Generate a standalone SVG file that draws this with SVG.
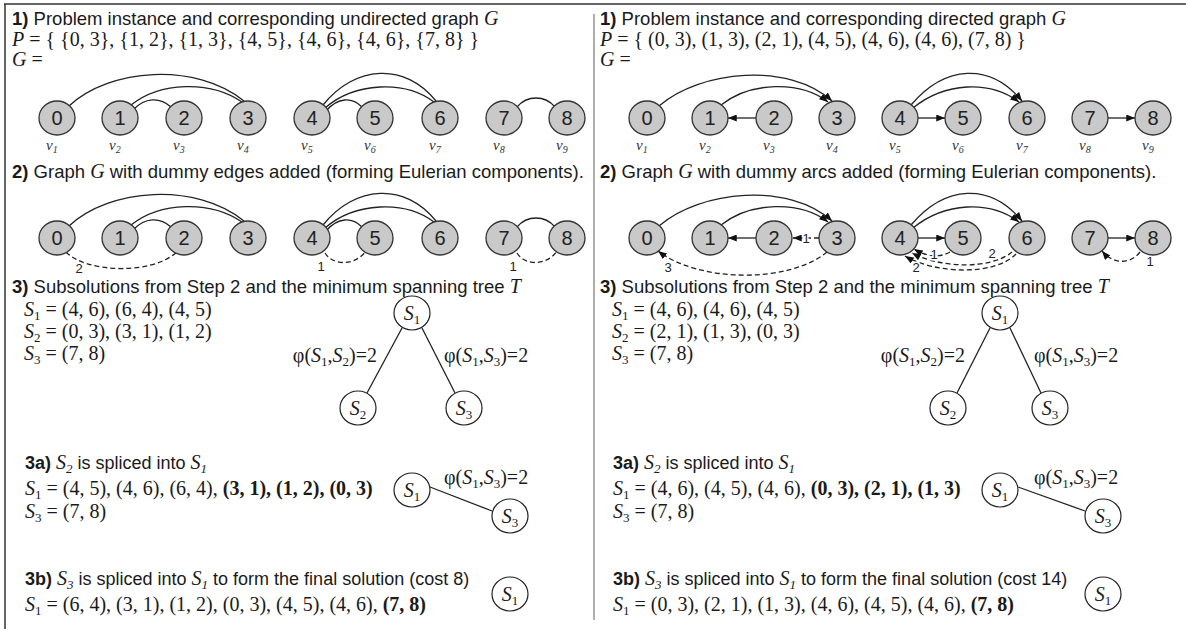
<svg xmlns="http://www.w3.org/2000/svg" width="1186" height="629" viewBox="0 0 1186 629">
<style>
.sans{font-family:"Liberation Sans",Arial,sans-serif;font-size:18.5px;fill:#1a1a1a}
.sm{font-size:18px}
.ser{font-family:"Liberation Serif","Times New Roman",serif;font-size:20px;fill:#1a1a1a}
.it{font-family:"Liberation Serif","Times New Roman",serif;font-style:italic}
.b{font-weight:bold}
.num{font-family:"Liberation Sans",Arial,sans-serif;font-size:20px;text-anchor:middle;fill:#222}
.nd{fill:#c9c9c9;stroke:#333;stroke-width:1.3}
.sn{fill:#fff;stroke:#222;stroke-width:1.2}
.e{fill:none;stroke:#222;stroke-width:1.3}
.dash{stroke-dasharray:5 3}
.lbl{font-family:"Liberation Sans",Arial,sans-serif;font-size:13px;text-anchor:middle;fill:#222;stroke:#fff;stroke-width:3;paint-order:stroke}
.v{font-family:"Liberation Serif","Times New Roman",serif;font-style:italic;font-size:15px;fill:#333}
.frame{stroke:#333;stroke-width:1.5;fill:none}
</style>
<defs>
<marker id="ah" viewBox="0 0 10 8" refX="10" refY="4" markerWidth="9" markerHeight="7" orient="auto" markerUnits="userSpaceOnUse"><path d="M0,0 L10,4 L0,8 z" fill="#111"/></marker>
</defs>

<g id="frame">
<line class="frame" x1="4" y1="4" x2="1186" y2="4"/>
<line class="frame" x1="5" y1="4" x2="5" y2="629"/>
<line x1="594" y1="14" x2="594" y2="620" stroke="#777" stroke-width="1.2"/>
</g>

<!-- LEFT PANEL TEXT -->
<g id="left-text">
<text class="sans" x="12" y="25"><tspan class="b">1)</tspan> Problem instance and corresponding undirected graph <tspan class="it" font-size="20">G</tspan></text>
<text class="ser" x="12" y="46"><tspan class="it">P</tspan> = { {0, 3}, {1, 2}, {1, 3}, {4, 5}, {4, 6}, {4, 6}, {7, 8} }</text>
<text class="ser" x="12" y="66"><tspan class="it">G</tspan> =</text>
<text class="sans" x="12" y="178"><tspan class="b">2)</tspan> Graph <tspan class="it" font-size="20">G</tspan> with dummy edges added (forming Eulerian components).</text>
<text class="sans" x="12" y="293"><tspan class="b">3)</tspan> Subsolutions from Step 2 and the minimum spanning tree <tspan class="it" font-size="20">T</tspan></text>
<text class="ser" x="24" y="316"><tspan class="it">S</tspan><tspan font-size="13" dy="4">1</tspan><tspan dy="-4"> = (4, 6), (6, 4), (4, 5)</tspan></text>
<text class="ser" x="24" y="338"><tspan class="it">S</tspan><tspan font-size="13" dy="4">2</tspan><tspan dy="-4"> = (0, 3), (3, 1), (1, 2)</tspan></text>
<text class="ser" x="24" y="360"><tspan class="it">S</tspan><tspan font-size="13" dy="4">3</tspan><tspan dy="-4"> = (7, 8)</tspan></text>
<text class="ser" x="377" y="362" text-anchor="end">φ(<tspan class="it">S</tspan><tspan font-size="13" dy="4">1</tspan><tspan dy="-4">,</tspan><tspan class="it">S</tspan><tspan font-size="13" dy="4">2</tspan><tspan dy="-4">)=2</tspan></text>
<text class="ser" x="444" y="362">φ(<tspan class="it">S</tspan><tspan font-size="13" dy="4">1</tspan><tspan dy="-4">,</tspan><tspan class="it">S</tspan><tspan font-size="13" dy="4">3</tspan><tspan dy="-4">)=2</tspan></text>
<text class="sans sm" x="25" y="469"><tspan class="b">3a)</tspan> <tspan class="it" font-size="20">S</tspan><tspan class="it" font-size="13" dy="4">2</tspan><tspan dy="-4"> is spliced into </tspan><tspan class="it" font-size="20">S</tspan><tspan class="it" font-size="13" dy="4">1</tspan></text>
<text class="ser" x="25" y="495"><tspan class="it">S</tspan><tspan font-size="13" dy="4">1</tspan><tspan dy="-4"> = (4, 5), (4, 6), (6, 4), </tspan><tspan class="b">(3, 1), (1, 2), (0, 3)</tspan></text>
<text class="ser" x="25" y="518"><tspan class="it">S</tspan><tspan font-size="13" dy="4">3</tspan><tspan dy="-4"> = (7, 8)</tspan></text>
<text class="ser" x="444" y="484">φ(<tspan class="it">S</tspan><tspan font-size="13" dy="4">1</tspan><tspan dy="-4">,</tspan><tspan class="it">S</tspan><tspan font-size="13" dy="4">3</tspan><tspan dy="-4">)=2</tspan></text>
<text class="sans sm" x="25" y="585"><tspan class="b">3b)</tspan> <tspan class="it" font-size="20">S</tspan><tspan class="it" font-size="13" dy="4">3</tspan><tspan dy="-4"> is spliced into </tspan><tspan class="it" font-size="20">S</tspan><tspan class="it" font-size="13" dy="4">1</tspan><tspan dy="-4"> to form the final solution (cost 8)</tspan></text>
<text class="ser" x="25" y="611"><tspan class="it">S</tspan><tspan font-size="13" dy="4">1</tspan><tspan dy="-4"> = (6, 4), (3, 1), (1, 2), (0, 3), (4, 5), (4, 6), </tspan><tspan class="b">(7, 8)</tspan></text>
</g>

<!-- RIGHT PANEL TEXT -->
<g id="right-text">
<text class="sans" x="600" y="25"><tspan class="b">1)</tspan> Problem instance and corresponding directed graph <tspan class="it" font-size="20">G</tspan></text>
<text class="ser" x="600" y="46"><tspan class="it">P</tspan> = { (0, 3), (1, 3), (2, 1), (4, 5), (4, 6), (4, 6), (7, 8) }</text>
<text class="ser" x="600" y="66"><tspan class="it">G</tspan> =</text>
<text class="sans" x="600" y="178"><tspan class="b">2)</tspan> Graph <tspan class="it" font-size="20">G</tspan> with dummy arcs added (forming Eulerian components).</text>
<text class="sans" x="600" y="293"><tspan class="b">3)</tspan> Subsolutions from Step 2 and the minimum spanning tree <tspan class="it" font-size="20">T</tspan></text>
<text class="ser" x="612" y="316"><tspan class="it">S</tspan><tspan font-size="13" dy="4">1</tspan><tspan dy="-4"> = (4, 6), (4, 6), (4, 5)</tspan></text>
<text class="ser" x="612" y="338"><tspan class="it">S</tspan><tspan font-size="13" dy="4">2</tspan><tspan dy="-4"> = (2, 1), (1, 3), (0, 3)</tspan></text>
<text class="ser" x="612" y="360"><tspan class="it">S</tspan><tspan font-size="13" dy="4">3</tspan><tspan dy="-4"> = (7, 8)</tspan></text>
<text class="ser" x="965" y="362" text-anchor="end">φ(<tspan class="it">S</tspan><tspan font-size="13" dy="4">1</tspan><tspan dy="-4">,</tspan><tspan class="it">S</tspan><tspan font-size="13" dy="4">2</tspan><tspan dy="-4">)=2</tspan></text>
<text class="ser" x="1034" y="362">φ(<tspan class="it">S</tspan><tspan font-size="13" dy="4">1</tspan><tspan dy="-4">,</tspan><tspan class="it">S</tspan><tspan font-size="13" dy="4">3</tspan><tspan dy="-4">)=2</tspan></text>
<text class="sans sm" x="613" y="469"><tspan class="b">3a)</tspan> <tspan class="it" font-size="20">S</tspan><tspan class="it" font-size="13" dy="4">2</tspan><tspan dy="-4"> is spliced into </tspan><tspan class="it" font-size="20">S</tspan><tspan class="it" font-size="13" dy="4">1</tspan></text>
<text class="ser" x="613" y="495"><tspan class="it">S</tspan><tspan font-size="13" dy="4">1</tspan><tspan dy="-4"> = (4, 6), (4, 5), (4, 6), </tspan><tspan class="b">(0, 3), (2, 1), (1, 3)</tspan></text>
<text class="ser" x="613" y="518"><tspan class="it">S</tspan><tspan font-size="13" dy="4">3</tspan><tspan dy="-4"> = (7, 8)</tspan></text>
<text class="ser" x="1034" y="484">φ(<tspan class="it">S</tspan><tspan font-size="13" dy="4">1</tspan><tspan dy="-4">,</tspan><tspan class="it">S</tspan><tspan font-size="13" dy="4">3</tspan><tspan dy="-4">)=2</tspan></text>
<text class="sans sm" x="613" y="585"><tspan class="b">3b)</tspan> <tspan class="it" font-size="20">S</tspan><tspan class="it" font-size="13" dy="4">3</tspan><tspan dy="-4"> is spliced into </tspan><tspan class="it" font-size="20">S</tspan><tspan class="it" font-size="13" dy="4">1</tspan><tspan dy="-4"> to form the final solution (cost 14)</tspan></text>
<text class="ser" x="613" y="611"><tspan class="it">S</tspan><tspan font-size="13" dy="4">1</tspan><tspan dy="-4"> = (0, 3), (2, 1), (1, 3), (4, 6), (4, 5), (4, 6), </tspan><tspan class="b">(7, 8)</tspan></text>
</g>

<!-- CONNECTORS -->
<g id="connectors">
<!-- left row 1 -->
<path class="e" d="M69 106 C110 68 195 62 244 101"/>
<path class="e" d="M131 105 C160 82 210 80 242 102"/>
<path class="e" d="M133 110 C145 97 160 97 171 107"/>
<path class="e" d="M323 105 C355 65 405 62 436 101"/>
<path class="e" d="M325 108 C355 82 405 80 434 102"/>
<path class="e" d="M326 111 C338 97 352 97 362 107"/>
<path class="e" d="M517 107 C527 95 545 95 555 107"/>
<!-- left row 2 -->
<path class="e" d="M69 226 C110 188 195 182 244 221"/>
<path class="e" d="M131 225 C160 202 210 200 242 222"/>
<path class="e" d="M133 230 C145 217 160 217 171 227"/>
<path class="e" d="M323 225 C355 185 405 182 436 221"/>
<path class="e" d="M325 228 C355 202 405 200 434 222"/>
<path class="e" d="M326 231 C338 217 352 217 362 227"/>
<path class="e" d="M517 227 C527 215 545 215 555 227"/>
<path class="e dash" d="M66 252 C85 272 150 276 177 252"/>
<path class="e dash" d="M325 253 C333 266 355 266 366 251"/>
<path class="e dash" d="M517 253 C525 266 547 266 557 251"/>
<text class="lbl" x="79" y="273">2</text>
<text class="lbl" x="321" y="271">1</text>
<text class="lbl" x="513" y="271">1</text>
<!-- right row 1 -->
<path class="e" d="M659 106 C700 70 790 62 832 101" marker-end="url(#ah)"/>
<path class="e" d="M721 105 C750 82 800 80 828 102" marker-end="url(#ah)"/>
<path class="e" d="M756 118 L728 118" marker-end="url(#ah)"/>
<path class="e" d="M911 105 C945 65 990 62 1022 101" marker-end="url(#ah)"/>
<path class="e" d="M913 108 C945 82 990 80 1019 102" marker-end="url(#ah)"/>
<path class="e" d="M918 118 L945 118" marker-end="url(#ah)"/>
<path class="e" d="M1108 118 L1135 118" marker-end="url(#ah)"/>
<!-- right row 2 -->
<path class="e" d="M659 226 C700 190 790 182 832 221" marker-end="url(#ah)"/>
<path class="e" d="M721 225 C750 202 800 200 828 222" marker-end="url(#ah)"/>
<path class="e" d="M756 238 L728 238" marker-end="url(#ah)"/>
<path class="e" d="M911 225 C945 185 990 182 1022 221" marker-end="url(#ah)"/>
<path class="e" d="M913 228 C945 202 990 200 1019 222" marker-end="url(#ah)"/>
<path class="e" d="M918 238 L945 238" marker-end="url(#ah)"/>
<path class="e" d="M1108 238 L1135 238" marker-end="url(#ah)"/>
<path class="e dash" d="M819 238 L793 238" marker-end="url(#ah)"/>
<path class="e dash" d="M827 252 C790 283 700 283 658 251" marker-end="url(#ah)"/>
<path class="e dash" d="M950 252 Q934 261 914 249" marker-end="url(#ah)"/>
<path class="e dash" d="M1012 252 C990 270 940 268 912 253" marker-end="url(#ah)"/>
<path class="e dash" d="M1016 254 C995 276 935 274 905 256" marker-end="url(#ah)"/>
<path class="e dash" d="M1140 252 C1130 265 1113 264 1102 251" marker-end="url(#ah)"/>
<text class="lbl" x="806" y="243">1</text>
<text class="lbl" x="668" y="272">3</text>
<text class="lbl" x="934" y="259">1</text>
<text class="lbl" x="992" y="258">2</text>
<text class="lbl" x="916" y="272">2</text>
<text class="lbl" x="1150" y="266">1</text>
<!-- trees -->
<line class="e" x1="402" y1="328" x2="367" y2="393"/>
<line class="e" x1="422" y1="328" x2="455" y2="393"/>
<line class="e" x1="990" y1="328" x2="957" y2="393"/>
<line class="e" x1="1010" y1="328" x2="1041" y2="393"/>
<line class="e" x1="430" y1="487" x2="492" y2="511"/>
<line class="e" x1="1018" y1="487" x2="1085" y2="511"/>
</g>

<!-- LEFT NODES -->
<g id="L1-0"><ellipse class="nd" cx="57" cy="118" rx="18" ry="17"/><text class="num" x="57" y="125">0</text></g>
<g id="L1-1"><ellipse class="nd" cx="120" cy="118" rx="18" ry="17"/><text class="num" x="120" y="125">1</text></g>
<g id="L1-2"><ellipse class="nd" cx="184" cy="118" rx="18" ry="17"/><text class="num" x="184" y="125">2</text></g>
<g id="L1-3"><ellipse class="nd" cx="248" cy="118" rx="18" ry="17"/><text class="num" x="248" y="125">3</text></g>
<g id="L1-4"><ellipse class="nd" cx="312" cy="118" rx="18" ry="17"/><text class="num" x="312" y="125">4</text></g>
<g id="L1-5"><ellipse class="nd" cx="375" cy="118" rx="18" ry="17"/><text class="num" x="375" y="125">5</text></g>
<g id="L1-6"><ellipse class="nd" cx="440" cy="118" rx="18" ry="17"/><text class="num" x="440" y="125">6</text></g>
<g id="L1-7"><ellipse class="nd" cx="504" cy="118" rx="18" ry="17"/><text class="num" x="504" y="125">7</text></g>
<g id="L1-8"><ellipse class="nd" cx="567" cy="118" rx="18" ry="17"/><text class="num" x="567" y="125">8</text></g>
<g id="L-vlabels">
<text class="v" x="46" y="150">v<tspan font-size="10" dy="3">1</tspan></text>
<text class="v" x="109" y="150">v<tspan font-size="10" dy="3">2</tspan></text>
<text class="v" x="173" y="150">v<tspan font-size="10" dy="3">3</tspan></text>
<text class="v" x="237" y="150">v<tspan font-size="10" dy="3">4</tspan></text>
<text class="v" x="301" y="150">v<tspan font-size="10" dy="3">5</tspan></text>
<text class="v" x="364" y="150">v<tspan font-size="10" dy="3">6</tspan></text>
<text class="v" x="429" y="150">v<tspan font-size="10" dy="3">7</tspan></text>
<text class="v" x="493" y="150">v<tspan font-size="10" dy="3">8</tspan></text>
<text class="v" x="556" y="150">v<tspan font-size="10" dy="3">9</tspan></text>
</g>
<g id="L2-0"><ellipse class="nd" cx="57" cy="238" rx="18" ry="17"/><text class="num" x="57" y="245">0</text></g>
<g id="L2-1"><ellipse class="nd" cx="120" cy="238" rx="18" ry="17"/><text class="num" x="120" y="245">1</text></g>
<g id="L2-2"><ellipse class="nd" cx="184" cy="238" rx="18" ry="17"/><text class="num" x="184" y="245">2</text></g>
<g id="L2-3"><ellipse class="nd" cx="248" cy="238" rx="18" ry="17"/><text class="num" x="248" y="245">3</text></g>
<g id="L2-4"><ellipse class="nd" cx="312" cy="238" rx="18" ry="17"/><text class="num" x="312" y="245">4</text></g>
<g id="L2-5"><ellipse class="nd" cx="375" cy="238" rx="18" ry="17"/><text class="num" x="375" y="245">5</text></g>
<g id="L2-6"><ellipse class="nd" cx="440" cy="238" rx="18" ry="17"/><text class="num" x="440" y="245">6</text></g>
<g id="L2-7"><ellipse class="nd" cx="504" cy="238" rx="18" ry="17"/><text class="num" x="504" y="245">7</text></g>
<g id="L2-8"><ellipse class="nd" cx="567" cy="238" rx="18" ry="17"/><text class="num" x="567" y="245">8</text></g>

<!-- RIGHT NODES -->
<g id="R1-0"><ellipse class="nd" cx="647" cy="118" rx="18" ry="17"/><text class="num" x="647" y="125">0</text></g>
<g id="R1-1"><ellipse class="nd" cx="710" cy="118" rx="18" ry="17"/><text class="num" x="710" y="125">1</text></g>
<g id="R1-2"><ellipse class="nd" cx="774" cy="118" rx="18" ry="17"/><text class="num" x="774" y="125">2</text></g>
<g id="R1-3"><ellipse class="nd" cx="837" cy="118" rx="18" ry="17"/><text class="num" x="837" y="125">3</text></g>
<g id="R1-4"><ellipse class="nd" cx="900" cy="118" rx="18" ry="17"/><text class="num" x="900" y="125">4</text></g>
<g id="R1-5"><ellipse class="nd" cx="963" cy="118" rx="18" ry="17"/><text class="num" x="963" y="125">5</text></g>
<g id="R1-6"><ellipse class="nd" cx="1027" cy="118" rx="18" ry="17"/><text class="num" x="1027" y="125">6</text></g>
<g id="R1-7"><ellipse class="nd" cx="1090" cy="118" rx="18" ry="17"/><text class="num" x="1090" y="125">7</text></g>
<g id="R1-8"><ellipse class="nd" cx="1153" cy="118" rx="18" ry="17"/><text class="num" x="1153" y="125">8</text></g>
<g id="R-vlabels">
<text class="v" x="636" y="150">v<tspan font-size="10" dy="3">1</tspan></text>
<text class="v" x="699" y="150">v<tspan font-size="10" dy="3">2</tspan></text>
<text class="v" x="763" y="150">v<tspan font-size="10" dy="3">3</tspan></text>
<text class="v" x="826" y="150">v<tspan font-size="10" dy="3">4</tspan></text>
<text class="v" x="889" y="150">v<tspan font-size="10" dy="3">5</tspan></text>
<text class="v" x="952" y="150">v<tspan font-size="10" dy="3">6</tspan></text>
<text class="v" x="1016" y="150">v<tspan font-size="10" dy="3">7</tspan></text>
<text class="v" x="1079" y="150">v<tspan font-size="10" dy="3">8</tspan></text>
<text class="v" x="1142" y="150">v<tspan font-size="10" dy="3">9</tspan></text>
</g>
<g id="R2-0"><ellipse class="nd" cx="647" cy="238" rx="18" ry="17"/><text class="num" x="647" y="245">0</text></g>
<g id="R2-1"><ellipse class="nd" cx="710" cy="238" rx="18" ry="17"/><text class="num" x="710" y="245">1</text></g>
<g id="R2-2"><ellipse class="nd" cx="774" cy="238" rx="18" ry="17"/><text class="num" x="774" y="245">2</text></g>
<g id="R2-3"><ellipse class="nd" cx="837" cy="238" rx="18" ry="17"/><text class="num" x="837" y="245">3</text></g>
<g id="R2-4"><ellipse class="nd" cx="900" cy="238" rx="18" ry="17"/><text class="num" x="900" y="245">4</text></g>
<g id="R2-5"><ellipse class="nd" cx="963" cy="238" rx="18" ry="17"/><text class="num" x="963" y="245">5</text></g>
<g id="R2-6"><ellipse class="nd" cx="1027" cy="238" rx="18" ry="17"/><text class="num" x="1027" y="245">6</text></g>
<g id="R2-7"><ellipse class="nd" cx="1090" cy="238" rx="18" ry="17"/><text class="num" x="1090" y="245">7</text></g>
<g id="R2-8"><ellipse class="nd" cx="1153" cy="238" rx="18" ry="17"/><text class="num" x="1153" y="245">8</text></g>

<!-- TREE NODES -->
<g id="LT-S1"><ellipse class="sn" cx="412" cy="313" rx="18" ry="17"/><text class="ser" x="412" y="320" text-anchor="middle"><tspan class="it">S</tspan><tspan font-size="13" dy="4">1</tspan></text></g>
<g id="LT-S2"><ellipse class="sn" cx="358" cy="408" rx="18" ry="17"/><text class="ser" x="358" y="415" text-anchor="middle"><tspan class="it">S</tspan><tspan font-size="13" dy="4">2</tspan></text></g>
<g id="LT-S3"><ellipse class="sn" cx="464" cy="408" rx="18" ry="17"/><text class="ser" x="464" y="415" text-anchor="middle"><tspan class="it">S</tspan><tspan font-size="13" dy="4">3</tspan></text></g>
<g id="RT-S1"><ellipse class="sn" cx="1000" cy="313" rx="18" ry="17"/><text class="ser" x="1000" y="320" text-anchor="middle"><tspan class="it">S</tspan><tspan font-size="13" dy="4">1</tspan></text></g>
<g id="RT-S2"><ellipse class="sn" cx="948" cy="408" rx="18" ry="17"/><text class="ser" x="948" y="415" text-anchor="middle"><tspan class="it">S</tspan><tspan font-size="13" dy="4">2</tspan></text></g>
<g id="RT-S3"><ellipse class="sn" cx="1050" cy="408" rx="18" ry="17"/><text class="ser" x="1050" y="415" text-anchor="middle"><tspan class="it">S</tspan><tspan font-size="13" dy="4">3</tspan></text></g>
<g id="LA-S1"><ellipse class="sn" cx="412" cy="490" rx="18" ry="17"/><text class="ser" x="412" y="497" text-anchor="middle"><tspan class="it">S</tspan><tspan font-size="13" dy="4">1</tspan></text></g>
<g id="LA-S3"><ellipse class="sn" cx="510" cy="516" rx="18" ry="17"/><text class="ser" x="510" y="523" text-anchor="middle"><tspan class="it">S</tspan><tspan font-size="13" dy="4">3</tspan></text></g>
<g id="RA-S1"><ellipse class="sn" cx="1000" cy="490" rx="18" ry="17"/><text class="ser" x="1000" y="497" text-anchor="middle"><tspan class="it">S</tspan><tspan font-size="13" dy="4">1</tspan></text></g>
<g id="RA-S3"><ellipse class="sn" cx="1103" cy="516" rx="18" ry="17"/><text class="ser" x="1103" y="523" text-anchor="middle"><tspan class="it">S</tspan><tspan font-size="13" dy="4">3</tspan></text></g>
<g id="LB-S1"><ellipse class="sn" cx="510" cy="594" rx="18" ry="17"/><text class="ser" x="510" y="601" text-anchor="middle"><tspan class="it">S</tspan><tspan font-size="13" dy="4">1</tspan></text></g>
<g id="RB-S1"><ellipse class="sn" cx="1103" cy="594" rx="18" ry="17"/><text class="ser" x="1103" y="601" text-anchor="middle"><tspan class="it">S</tspan><tspan font-size="13" dy="4">1</tspan></text></g>
</svg>
